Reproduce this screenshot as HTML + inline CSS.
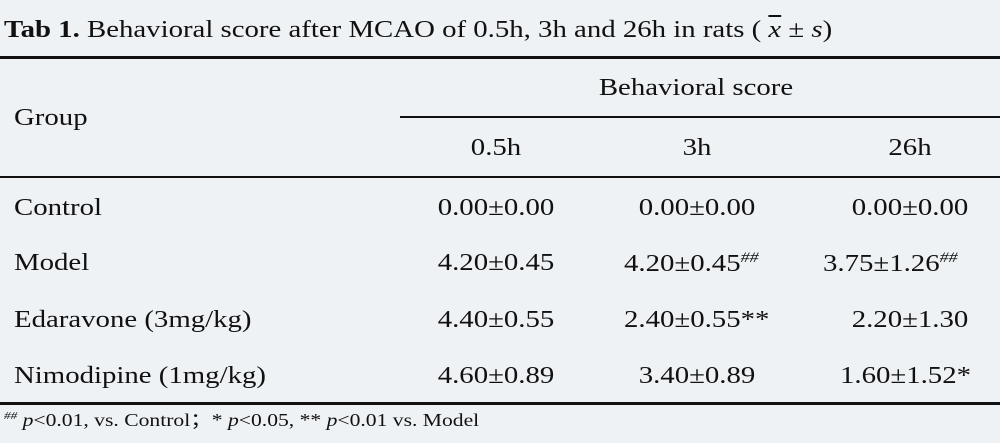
<!DOCTYPE html>
<html><head><style>
body{margin:0;width:1000px;height:443px;background:#eef2f5;font-family:"Liberation Serif",serif;color:#111;position:relative;overflow:hidden}
.t{position:absolute;white-space:nowrap;font-size:24px;line-height:1;transform:scaleX(1.2);transform-origin:left center}
.c{transform:translateX(-50%) scaleX(1.2);transform-origin:center center}
.l{position:absolute;background:#111}
sup{font-size:15px;vertical-align:9px;font-style:italic}
</style></head><body>
<div class="t" style="left:4px;top:18px;font-size:24px"><b>Tab 1.</b> Behavioral score after MCAO of 0.5h, 3h and 26h in rats ( <i style="text-decoration:overline">x</i> ± <i>s</i>)</div>
<div class="l" style="left:0;top:56px;width:1000px;height:3px"></div>
<div class="t" style="left:14px;top:106px">Group</div>
<div class="t c" style="left:696px;top:76px">Behavioral score</div>
<div class="l" style="left:400px;top:116px;width:600px;height:2px"></div>
<div class="t c" style="left:496px;top:136px">0.5h</div>
<div class="t c" style="left:697px;top:136px">3h</div>
<div class="t c" style="left:910px;top:136px">26h</div>
<div class="l" style="left:0;top:176px;width:1000px;height:2px"></div>

<div class="t" style="left:14px;top:196px">Control</div>
<div class="t c" style="left:496px;top:196px">0.00±0.00</div>
<div class="t c" style="left:697px;top:196px">0.00±0.00</div>
<div class="t c" style="left:910px;top:196px">0.00±0.00</div>

<div class="t" style="left:14px;top:251px">Model</div>
<div class="t c" style="left:496px;top:251px">4.20±0.45</div>
<div class="t" style="left:624px;top:251px">4.20±0.45<sup>##</sup></div>
<div class="t" style="left:823px;top:251px">3.75±1.26<sup>##</sup></div>

<div class="t" style="left:14px;top:308px">Edaravone (3mg/kg)</div>
<div class="t c" style="left:496px;top:308px">4.40±0.55</div>
<div class="t" style="left:624px;top:308px">2.40±0.55**</div>
<div class="t c" style="left:910px;top:308px">2.20±1.30</div>

<div class="t" style="left:14px;top:364px">Nimodipine (1mg/kg)</div>
<div class="t c" style="left:496px;top:364px">4.60±0.89</div>
<div class="t c" style="left:697px;top:364px">3.40±0.89</div>
<div class="t" style="left:840px;top:364px">1.60±1.52*</div>

<div class="l" style="left:0;top:402px;width:1000px;height:3px"></div>
<div class="t" style="left:4px;top:411px;font-size:18px"><sup style="font-size:11px;vertical-align:7px">##</sup> <i>p</i>&lt;0.01, vs. Control；* <i>p</i>&lt;0.05, ** <i>p</i>&lt;0.01 vs. Model</div>
</body></html>
